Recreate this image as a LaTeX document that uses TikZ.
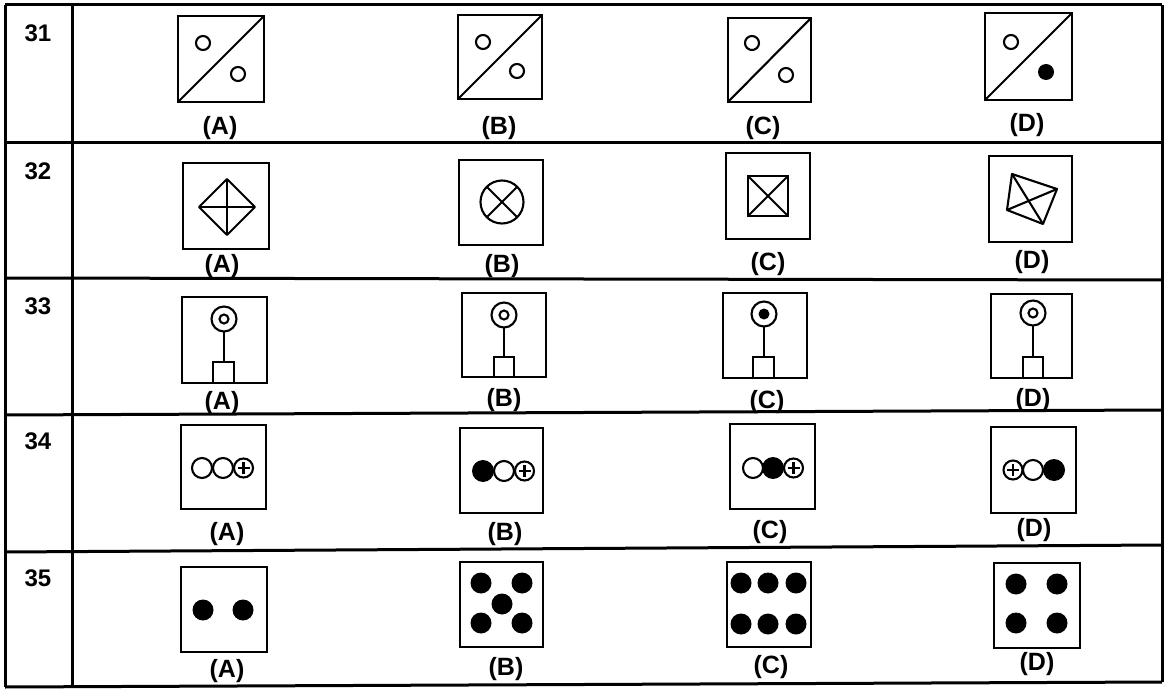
\documentclass[tikz,border=0pt]{standalone}
\usepackage{fontspec}
\setmainfont{Liberation Sans}
\begin{document}
\begin{tikzpicture}[x=1pt,y=-1pt,
  grid/.style={line width=3pt},
  fbox/.style={line width=2.5pt},
  fig/.style={line width=2.1pt},
  lab/.style={font=\fontsize{25}{27}\selectfont\bfseries, inner sep=0pt},
  num/.style={font=\fontsize{24}{26}\selectfont\bfseries, inner sep=0pt}]
\useasboundingbox (0,0) rectangle (1168,695);
\fill[white] (0,0) rectangle (1168,695);
% table
\draw[grid] (5,5) -- (1162,5);
\draw[grid] (5,143) -- (1162,143);
\draw[grid] (5,278) -- (1162,280);
\draw[grid] (5,415) -- (1162,410);
\draw[grid] (5,552) -- (1162,545);
\draw[grid] (5,687) -- (1162,682);
\draw[grid] (5,5) -- (5,687);
\draw[grid] (72,5) -- (72,686);
\draw[grid] (1162,5) -- (1162,682);
% row numbers
\node[num] (n31) at (38,33) {31};
\node[num] (n32) at (38,171) {32};
\node[num] (n33) at (38,306) {33};
\node[num] (n34) at (38,441) {34};
\node[num] (n35) at (38,578) {35};
% ---------- Row 31 ----------
\draw[fbox] (178,16) rectangle (264,102);
\draw[fig] (178,102) -- (264,16);
\draw[fig] (203,43) circle (7); \draw[fig] (238,74) circle (7);
\draw[fbox] (458,15) rectangle (542,99);
\draw[fig] (458,99) -- (542,15);
\draw[fig] (483,42) circle (7); \draw[fig] (517,71) circle (7);
\draw[fbox] (728,18) rectangle (811,102);
\draw[fig] (728,102) -- (811,18);
\draw[fig] (752,43) circle (7); \draw[fig] (786,75) circle (7);
\draw[fbox] (985,13) rectangle (1072,100);
\draw[fig] (985,100) -- (1072,13);
\draw[fig] (1011,42) circle (7); \fill (1046,72) circle (8);
\node[lab] (l31a) at (220,128) {(A)};
\node[lab] (l31b) at (499,128) {(B)};
\node[lab] (l31c) at (763,128) {(C)};
\node[lab] (l31d) at (1027,125) {(D)};
% ---------- Row 32 ----------
\draw[fbox] (183,163) rectangle (269,249);
\draw[fig,line join=round] (199,207) -- (227,179) -- (255,207) -- (227,235) -- cycle;
\draw[fig] (199,207) -- (255,207); \draw[fig] (227,179) -- (227,235);
\draw[fbox] (459,160) rectangle (543,245);
\draw[fig] (502,202) circle (21.5);
\draw[fig] (502,202) ++(45:21.5) -- ++(225:43);
\draw[fig] (502,202) ++(135:21.5) -- ++(315:43);
\draw[fbox] (726,153) rectangle (810,239);
\draw[fig] (748,176) rectangle (788,216);
\draw[fig] (748,176) -- (788,216); \draw[fig] (788,176) -- (748,216);
\draw[fbox] (989,156) rectangle (1072,242);
\draw[fig,line join=round] (1012,174) -- (1057,189) -- (1043,224) -- (1007,210) -- cycle;
\draw[fig] (1012,174) -- (1043,224); \draw[fig] (1057,189) -- (1007,210);
\node[lab] (l32a) at (222,266) {(A)};
\node[lab] (l32b) at (502,266) {(B)};
\node[lab] (l32c) at (768,264) {(C)};
\node[lab] (l32d) at (1032,262) {(D)};
% ---------- Row 33 ----------
\draw[fbox] (182,297) rectangle (267,383);
\draw[fig] (224,319) circle (12.5); \draw[fig] (224,319) circle (4.5);
\draw[fig] (224,331.5) -- (224,362);
\draw[fig] (213,362) rectangle (234,383);
\draw[fbox] (462,293) rectangle (546,377);
\draw[fig] (504,315) circle (12.5); \draw[fig] (504,315) circle (4.5);
\draw[fig] (504,327.5) -- (504,357);
\draw[fig] (494,357) rectangle (514,377);
\draw[fbox] (723,293) rectangle (807,378);
\draw[fig] (764,314) circle (12.5); \fill (764,314) circle (5.5);
\draw[fig] (764,326.5) -- (764,357);
\draw[fig] (753,357) rectangle (774,378);
\draw[fbox] (991,294) rectangle (1072,378);
\draw[fig] (1033,313) circle (12.5); \draw[fig] (1033,313) circle (4.5);
\draw[fig] (1033,325.5) -- (1033,357);
\draw[fig] (1023,357) rectangle (1043,378);
\node[lab] (l33a) at (222,403) {(A)};
\node[lab] (l33b) at (504,400) {(B)};
\node[lab] (l33c) at (767,402) {(C)};
\node[lab] (l33d) at (1033,400) {(D)};
% ---------- Row 34 ----------
\draw[fbox] (181,425) rectangle (266,509);
\draw[fig] (202,468) circle (10); \draw[fig] (223,468) circle (10);
\draw[fig] (243.5,468) circle (9.5);
\draw[line width=2.6pt] (243.5,462) -- (243.5,474) (237.5,468) -- (249.5,468);
\draw[fbox] (460,428) rectangle (543,513);
\fill (483,471) circle (11); \draw[fig] (504,471) circle (10);
\draw[fig] (524.5,471) circle (9.5);
\draw[line width=2.6pt] (524.5,465) -- (524.5,477) (518.5,471) -- (530.5,471);
\draw[fbox] (730,424) rectangle (815,509);
\draw[fig] (753,468) circle (10); \fill (773,468) circle (11);
\draw[fig] (793.5,468) circle (9.5);
\draw[line width=2.6pt] (793.5,462) -- (793.5,474) (787.5,468) -- (799.5,468);
\draw[fbox] (991,427) rectangle (1076,513);
\draw[fig] (1013,470) circle (9.5);
\draw[line width=2.6pt] (1013,464) -- (1013,476) (1007,470) -- (1019,470);
\draw[fig] (1033,470) circle (10); \fill (1054,470) circle (11);
\node[lab] (l34a) at (227,534) {(A)};
\node[lab] (l34b) at (505,534) {(B)};
\node[lab] (l34c) at (770,532) {(C)};
\node[lab] (l34d) at (1034,530) {(D)};
% ---------- Row 35 ----------
\draw[fbox] (181,567) rectangle (267,652);
\fill (203,610) circle (10.5); \fill (243,610) circle (10.5);
\draw[fbox] (460,562) rectangle (543,647);
\fill (481,583) circle (10.5); \fill (522,583) circle (10.5);
\fill (502,604) circle (10.5);
\fill (481,623) circle (10.5); \fill (522,623) circle (10.5);
\draw[fbox] (727,562) rectangle (811,647);
\foreach \xx in {741,768,796} {\fill (\xx,583) circle (10.5); \fill (\xx,624) circle (10.5);}
\draw[fbox] (994,563) rectangle (1080,648);
\foreach \xx in {1016,1057} {\fill (\xx,584) circle (10.5); \fill (\xx,623) circle (10.5);}
\node[lab] (l35a) at (227,671) {(A)};
\node[lab] (l35b) at (506,669) {(B)};
\node[lab] (l35c) at (771,667) {(C)};
\node[lab] (l35d) at (1037,664) {(D)};
\end{tikzpicture}
\end{document}
